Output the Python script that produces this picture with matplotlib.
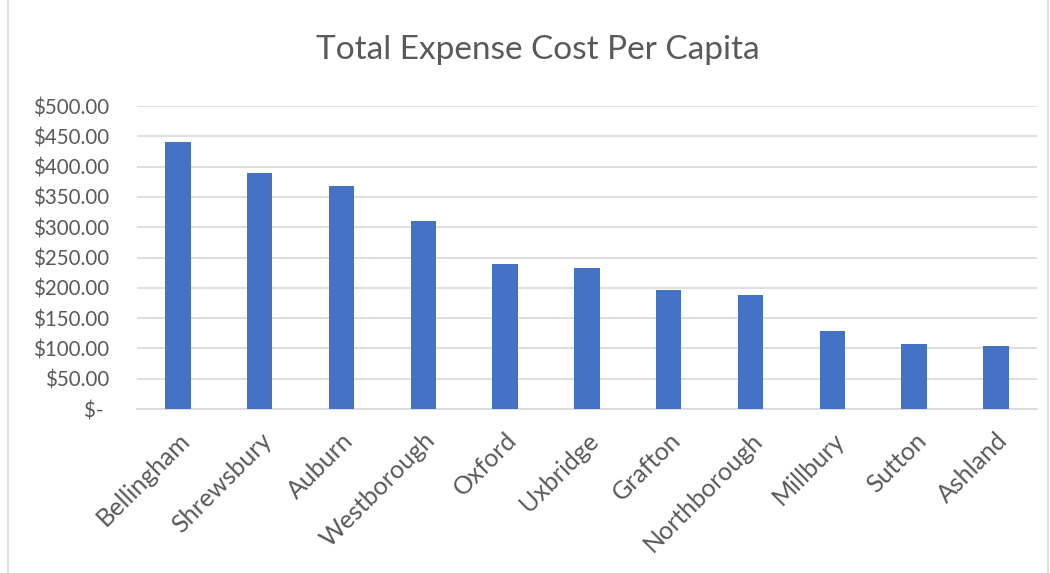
import matplotlib
matplotlib.use("Agg")
import matplotlib.pyplot as plt
from matplotlib.ticker import FuncFormatter
from matplotlib.patches import Rectangle

towns = ["Bellingham", "Shrewsbury", "Auburn", "Westborough", "Oxford", "Uxbridge",
         "Grafton", "Northborough", "Millbury", "Sutton", "Ashland"]
cost_per_capita = [440.6, 390.0, 367.6, 310.0, 239.0, 233.0, 196.0, 188.0, 129.5, 107.0, 104.0]
y_ticks = [0, 50, 100, 150, 200, 250, 300, 350, 400, 450, 500]

plt.rcParams['font.family'] = ['Lato', 'DejaVu Sans']
txt = '#595959'

fig = plt.figure(figsize=(10.5, 5.73), dpi=100)
fig.patches.append(Rectangle((0.008, -0.01), 0.99, 1.02, transform=fig.transFigure,
                             fill=False, edgecolor='#d9d9d9', linewidth=1.2))
ax = fig.add_axes([0.1305, 0.2862, 0.857, 0.5288])

x = range(len(towns))
ax.bar(x, cost_per_capita, width=0.31, color='#4472C4', zorder=3)

ax.set_xlim(-0.5, len(towns) - 0.5)
ax.set_ylim(0, 500)
ax.set_yticks(y_ticks)


def money(v, pos):
    if v == 0:
        return '$- '
    return '${:,.2f}'.format(v)


ax.yaxis.set_major_formatter(FuncFormatter(money))
ax.grid(axis='y', color='#d9d9d9', linewidth=1.2, zorder=0)
for s in ['top', 'right', 'left']:
    ax.spines[s].set_visible(False)
ax.spines['bottom'].set_color('#d9d9d9')
ax.spines['bottom'].set_linewidth(1.2)
ax.tick_params(axis='y', length=0, labelsize=14.8, colors=txt, pad=20)
ax.set_xticks(list(x))
ax.set_xticklabels(towns, rotation=45, ha='right', rotation_mode='anchor')
ax.tick_params(axis='x', length=0, labelsize=18, colors=txt, pad=14)

fig.text(0.512, 0.912, 'Total Expense Cost Per Capita', ha='center', va='center',
         fontsize=24, color=txt)

fig.savefig('out.png', dpi=100)
